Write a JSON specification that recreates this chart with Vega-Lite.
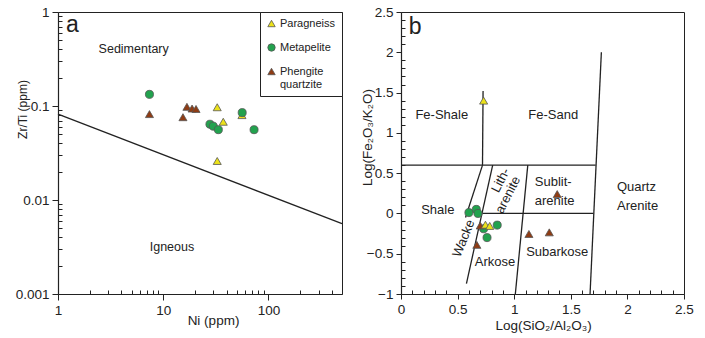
{
  "$schema": "https://vega.github.io/schema/vega-lite/v6.json",
  "background": "white",
  "padding": {"left": 14, "top": 4, "right": 5, "bottom": 5},
  "bounds": "flush",
  "spacing": 59,
  "config": {
    "font": "Liberation Sans",
    "view": {"stroke": "#222", "strokeWidth": 1},
    "axis": {
      "labelFont": "Liberation Sans", "titleFont": "Liberation Sans",
      "labelFontSize": 13.5, "titleFontSize": 13.5, "titleFontWeight": "normal",
      "labelColor": "#222", "titleColor": "#222", "domainColor": "#222", "tickColor": "#222",
      "domainWidth": 1.2, "tickWidth": 1, "ticks": true, "tickCount": 200,
      "grid": false, "labelFlush": false, "labelOverlap": false, "labelPadding": 3
    },
    "legend": {"labelFont": "Liberation Sans", "labelFontSize": 11, "labelColor": "#222"},
    "text": {"font": "Liberation Sans", "color": "#222"}
  },
  "datasets": {
    "geo_a": [
      {"rock": "Paragneiss", "ni": 56, "zrti": 0.080},
      {"rock": "Paragneiss", "ni": 32.6, "zrti": 0.097},
      {"rock": "Paragneiss", "ni": 37.2, "zrti": 0.068},
      {"rock": "Paragneiss", "ni": 32.6, "zrti": 0.026},
      {"rock": "Metapelite", "ni": 7.4, "zrti": 0.133},
      {"rock": "Metapelite", "ni": 27.8, "zrti": 0.064},
      {"rock": "Metapelite", "ni": 29.9, "zrti": 0.061},
      {"rock": "Metapelite", "ni": 33.4, "zrti": 0.056},
      {"rock": "Metapelite", "ni": 56.3, "zrti": 0.085},
      {"rock": "Metapelite", "ni": 73, "zrti": 0.056},
      {"rock": "Phengite quartzite", "ni": 7.4, "zrti": 0.082},
      {"rock": "Phengite quartzite", "ni": 15.4, "zrti": 0.076},
      {"rock": "Phengite quartzite", "ni": 16.8, "zrti": 0.098},
      {"rock": "Phengite quartzite", "ni": 18.8, "zrti": 0.094},
      {"rock": "Phengite quartzite", "ni": 20.5, "zrti": 0.093}
    ],
    "geo_b": [
      {"rock": "Metapelite", "si": 0.60, "fe": 0.01},
      {"rock": "Metapelite", "si": 0.665, "fe": 0.05},
      {"rock": "Metapelite", "si": 0.68, "fe": 0.0},
      {"rock": "Metapelite", "si": 0.73, "fe": -0.19},
      {"rock": "Metapelite", "si": 0.85, "fe": -0.145},
      {"rock": "Metapelite", "si": 0.76, "fe": -0.30},
      {"rock": "Phengite quartzite", "si": 1.38, "fe": 0.24},
      {"rock": "Phengite quartzite", "si": 1.13, "fe": -0.255},
      {"rock": "Phengite quartzite", "si": 1.31, "fe": -0.235},
      {"rock": "Phengite quartzite", "si": 0.67, "fe": -0.39},
      {"rock": "Phengite quartzite", "si": 0.70, "fe": -0.15},
      {"rock": "Paragneiss", "si": 0.73, "fe": 1.40},
      {"rock": "Paragneiss", "si": 0.746, "fe": -0.14},
      {"rock": "Paragneiss", "si": 0.784, "fe": -0.155}
    ],
    "line_a": [
      {"ni": 1, "zrti": 0.082},
      {"ni": 500, "zrti": 0.0056}
    ],
    "line_b": [
      {"seg": "s1", "si": 0, "fe": 0.6}, {"seg": "s1", "si": 1.72, "fe": 0.6},
      {"seg": "s2", "si": 0.72, "fe": 0.6}, {"seg": "s2", "si": 0.725, "fe": 1.52},
      {"seg": "s3", "si": 1.77, "fe": 2.0}, {"seg": "s3", "si": 1.67, "fe": -1},
      {"seg": "s4", "si": 0.72, "fe": 0.6}, {"seg": "s4", "si": 0.57, "fe": -0.05},
      {"seg": "s5", "si": 0.81, "fe": 0.6}, {"seg": "s5", "si": 0.578, "fe": -0.87},
      {"seg": "s6", "si": 0.72, "fe": 0.0}, {"seg": "s6", "si": 1.70, "fe": 0.0},
      {"seg": "s7", "si": 1.12, "fe": 0.6}, {"seg": "s7", "si": 1.01, "fe": -1}
    ],
    "labels_a": [
      {"text": "Sedimentary", "ni": 5.24, "zrti": 0.40},
      {"text": "Igneous", "ni": 12.1, "zrti": 0.00314}
    ],
    "tag_a": [{"text": "a", "ni": 1.37, "zrti": 0.72}],
    "labels_b": [
      {"text": "Fe-Shale", "si": 0.36, "fe": 1.22},
      {"text": "Fe-Sand", "si": 1.345, "fe": 1.22},
      {"text": "Shale", "si": 0.325, "fe": 0.04},
      {"text": "Sublit-", "si": 1.345, "fe": 0.39},
      {"text": "arenite", "si": 1.357, "fe": 0.15},
      {"text": "Quartz", "si": 2.08, "fe": 0.33},
      {"text": "Arenite", "si": 2.09, "fe": 0.09},
      {"text": "Arkose", "si": 0.83, "fe": -0.6},
      {"text": "Subarkose", "si": 1.38, "fe": -0.48}
    ],
    "lith_b": [
      {"text": "Lith-", "si": 0.88, "fe": 0.41},
      {"text": "arenite", "si": 0.945, "fe": 0.23}
    ],
    "wacke_b": [{"text": "Wacke", "si": 0.554, "fe": -0.31}],
    "tag_b": [{"text": "b", "si": 0.126, "fe": 2.31}]
  },
  "hconcat": [
    {
      "width": 284, "height": 282,
      "layer": [
        {
          "data": {"name": "line_a"},
          "mark": {"type": "line", "color": "#222", "strokeWidth": 1.3},
          "encoding": {
            "x": {"field": "ni", "type": "quantitative",
              "scale": {"type": "log", "domain": [1, 500], "nice": false},
              "axis": {"title": "Ni (ppm)", "labelOverlap": false, "ticks": true, "tickCount": 200,
                "values": [1,2,3,4,5,6,7,8,9,10,20,30,40,50,60,70,80,90,100,200,300,400],
                "labelExpr": "abs(log(datum.value)/LN10 - round(log(datum.value)/LN10)) < 1e-6 ? format(datum.value, '~g') : ''",
                "tickSize": {"condition": {"test": "abs(log(datum.value)/LN10 - round(log(datum.value)/LN10)) < 1e-6", "value": 6}, "value": -4},
                "titleX": 155, "titleY": 26, "titleBaseline": "middle"}},
            "y": {"field": "zrti", "type": "quantitative",
              "scale": {"type": "log", "domain": [0.001, 1], "nice": false},
              "axis": {"title": "Zr/Ti (ppm)", "titleFontSize": 12, "labelOverlap": false, "ticks": true, "tickCount": 200,
                "values": [0.001,0.002,0.003,0.004,0.005,0.006,0.007,0.008,0.009,0.01,0.02,0.03,0.04,0.05,0.06,0.07,0.08,0.09,0.1,0.2,0.3,0.4,0.5,0.6,0.7,0.8,0.9,1],
                "labelExpr": "abs(log(datum.value)/LN10 - round(log(datum.value)/LN10)) < 1e-6 ? format(datum.value, '~g') : ''",
                "tickSize": {"condition": {"test": "abs(log(datum.value)/LN10 - round(log(datum.value)/LN10)) < 1e-6", "value": 6}, "value": -4},
                "titleX": -36, "titleY": 97, "titleBaseline": "middle"}}
          }
        },
        {
          "data": {"name": "geo_a"},
          "mark": {"type": "point", "filled": true, "size": 65, "stroke": "#555", "strokeWidth": 0.8, "opacity": 1},
          "encoding": {
            "x": {"field": "ni", "type": "quantitative"},
            "y": {"field": "zrti", "type": "quantitative"},
            "color": {"field": "rock", "type": "nominal",
              "scale": {"domain": ["Paragneiss", "Metapelite", "Phengite quartzite"], "range": ["#ece21a", "#22a24e", "#8f3c14"]},
              "legend": {"title": null, "orient": "top-right", "offset": 0, "strokeColor": "#222", "fillColor": "white",
                "padding": 6, "rowPadding": 12, "symbolSize": 55, "symbolStrokeColor": "#555", "symbolStrokeWidth": 0.8,
                "labelOffset": 3, "labelLimit": 56,
                "labelExpr": "datum.label == 'Phengite quartzite' ? ['Phengite', 'quartzite'] : datum.label"}},
            "shape": {"field": "rock", "type": "nominal",
              "scale": {"domain": ["Paragneiss", "Metapelite", "Phengite quartzite"], "range": ["triangle-up", "circle", "triangle-up"]}}
          }
        },
        {
          "data": {"name": "labels_a"},
          "mark": {"type": "text", "fontSize": 12.5},
          "encoding": {
            "x": {"field": "ni", "type": "quantitative"},
            "y": {"field": "zrti", "type": "quantitative"},
            "text": {"field": "text"}
          }
        },
        {
          "data": {"name": "tag_a"},
          "mark": {"type": "text", "fontSize": 23},
          "encoding": {
            "x": {"field": "ni", "type": "quantitative"},
            "y": {"field": "zrti", "type": "quantitative"},
            "text": {"field": "text"}
          }
        }
      ]
    },
    {
      "width": 283, "height": 282,
      "layer": [
        {
          "data": {"name": "line_b"},
          "mark": {"type": "line", "color": "#222", "strokeWidth": 1.3},
          "encoding": {
            "x": {"field": "si", "type": "quantitative",
              "scale": {"domain": [0, 2.5], "nice": false},
              "axis": {"title": "Log(SiO₂/Al₂O₃)", "labelOverlap": false, "ticks": true, "tickCount": 200,
                "values": [0,0.1,0.2,0.3,0.4,0.5,0.6,0.7,0.8,0.9,1,1.1,1.2,1.3,1.4,1.5,1.6,1.7,1.8,1.9,2,2.1,2.2,2.3,2.4,2.5],
                "labelExpr": "abs(datum.value*2 - round(datum.value*2)) < 1e-6 ? format(datum.value, '~g') : ''",
                "tickSize": {"condition": {"test": "abs(datum.value*2 - round(datum.value*2)) < 1e-6", "value": 5}, "value": -4},
                "titleX": 142, "titleY": 31, "titleBaseline": "middle"}},
            "y": {"field": "fe", "type": "quantitative",
              "scale": {"domain": [-1, 2.5], "nice": false},
              "axis": {"title": "Log(Fe₂O₃/K₂O)", "labelOverlap": false, "ticks": true, "tickCount": 200,
                "values": [-1,-0.9,-0.8,-0.7,-0.6,-0.5,-0.4,-0.3,-0.2,-0.1,0,0.1,0.2,0.3,0.4,0.5,0.6,0.7,0.8,0.9,1,1.1,1.2,1.3,1.4,1.5,1.6,1.7,1.8,1.9,2,2.1,2.2,2.3,2.4,2.5],
                "labelExpr": "abs(datum.value*2 - round(datum.value*2)) < 1e-6 ? format(datum.value, '~g') : ''",
                "tickSize": {"condition": {"test": "abs(datum.value*2 - round(datum.value*2)) < 1e-6", "value": 5}, "value": -4},
                "titleX": -34, "titleY": 125, "titleBaseline": "middle"}},
            "detail": {"field": "seg"}
          }
        },
        {
          "data": {"name": "geo_b"},
          "mark": {"type": "point", "filled": true, "size": 65, "stroke": "#555", "strokeWidth": 0.8, "opacity": 1},
          "encoding": {
            "x": {"field": "si", "type": "quantitative"},
            "y": {"field": "fe", "type": "quantitative"},
            "color": {"field": "rock", "type": "nominal",
              "scale": {"domain": ["Paragneiss", "Metapelite", "Phengite quartzite"], "range": ["#ece21a", "#22a24e", "#8f3c14"]},
              "legend": null},
            "shape": {"field": "rock", "type": "nominal",
              "scale": {"domain": ["Paragneiss", "Metapelite", "Phengite quartzite"], "range": ["triangle-up", "circle", "triangle-up"]},
              "legend": null}
          }
        },
        {
          "data": {"name": "labels_b"},
          "mark": {"type": "text", "fontSize": 13},
          "encoding": {
            "x": {"field": "si", "type": "quantitative"},
            "y": {"field": "fe", "type": "quantitative"},
            "text": {"field": "text"}
          }
        },
        {
          "data": {"name": "lith_b"},
          "mark": {"type": "text", "fontSize": 13, "angle": -63},
          "encoding": {
            "x": {"field": "si", "type": "quantitative"},
            "y": {"field": "fe", "type": "quantitative"},
            "text": {"field": "text"}
          }
        },
        {
          "data": {"name": "wacke_b"},
          "mark": {"type": "text", "fontSize": 13, "angle": -68},
          "encoding": {
            "x": {"field": "si", "type": "quantitative"},
            "y": {"field": "fe", "type": "quantitative"},
            "text": {"field": "text"}
          }
        },
        {
          "data": {"name": "tag_b"},
          "mark": {"type": "text", "fontSize": 23},
          "encoding": {
            "x": {"field": "si", "type": "quantitative"},
            "y": {"field": "fe", "type": "quantitative"},
            "text": {"field": "text"}
          }
        }
      ]
    }
  ],
  "resolve": {
    "scale": {"color": "independent", "shape": "independent"},
    "legend": {"color": "independent", "shape": "independent"}
  }
}
